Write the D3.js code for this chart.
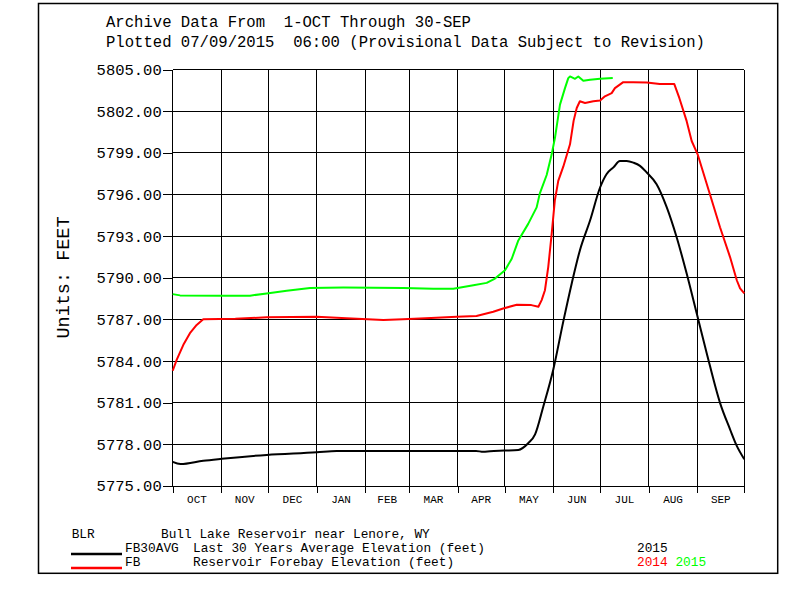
<!DOCTYPE html>
<html>
<head>
<meta charset="utf-8">
<script src="https://cdn.jsdelivr.net/npm/d3@7"></script>
<style>
  html, body { margin: 0; padding: 0; background: #fff; }
  svg { display: block; }
  text { font-family: "Liberation Mono", "DejaVu Sans Mono", monospace; fill: #000; }
</style>
</head>
<body>
<svg id="chart" width="792" height="612"></svg>
<script>
// ---------------- DATA (day offset from 1-OCT-2014, elevation in feet) ----------------
const titleLines = [
  "Archive Data From  1-OCT Through 30-SEP",
  "Plotted 07/09/2015  06:00 (Provisional Data Subject to Revision)"
];
const yLabel = "Units: FEET";
const monthLabels = ["OCT","NOV","DEC","JAN","FEB","MAR","APR","MAY","JUN","JUL","AUG","SEP"];
const yTicks = [5775, 5778, 5781, 5784, 5787, 5790, 5793, 5796, 5799, 5802, 5805];

// FB30AVG - last 30 years average elevation
const avg30 = [
  [0,5776.74],[5,5776.58],[19.5,5776.82],[31.3,5776.96],[60,5777.24],[92,5777.43],
  [104.7,5777.53],[122.8,5777.53],[193.7,5777.53],[198.3,5777.46],[202.6,5777.50],
  [211.7,5777.55],[220.7,5777.60],[227,5778.08],[231.4,5778.72],[236.7,5780.75],
  [243,5783.38],[249.4,5786.84],[254.8,5789.59],[260,5791.97],[266.5,5794.12],
  [272.9,5796.50],[277,5797.46],[281.4,5797.95],[285.6,5798.41],[289.9,5798.41],
  [294.2,5798.29],[298.4,5798.06],[302.7,5797.58],[309,5796.74],[315.5,5795.07],
  [321.8,5792.92],[328.2,5790.30],[334.6,5787.44],[341,5784.57],[349.5,5780.99],
  [355.9,5779.08],[360.2,5777.89],[365,5776.93]
];

// FB 2014 (water year Oct-2013..Sep-2014)
const fb2014 = [
  [0,5783.3],[2.6,5784.10],[6.8,5785.17],[11,5786.01],[15.3,5786.60],[19.5,5787.01],
  [40,5787.05],[60,5787.15],[92,5787.19],[111,5787.08],[134.5,5786.96],[147,5787.01],
  [165,5787.10],[181.4,5787.19],[194,5787.24],[204.7,5787.55],[211,5787.79],
  [219.7,5788.05],[229,5788.03],[233.5,5787.91],[235.6,5788.39],[237.7,5789.10],
  [239.8,5790.77],[242,5793.16],[244,5795.55],[246.2,5796.98],[249.4,5798.0],
  [253.7,5799.61],[256,5801.3],[258,5802.23],[260,5802.71],[263.3,5802.59],
  [268.6,5802.71],[272.9,5802.76],[276,5803.07],[280.3,5803.30],[282.4,5803.66],
  [287.7,5804.09],[294,5804.09],[302.7,5804.07],[311,5803.95],[320.3,5803.95],
  [323.5,5802.95],[328.2,5801.28],[331.4,5799.85],[335.2,5798.89],[343,5796.03],
  [349.5,5793.64],[355.9,5791.49],[360.2,5789.82],[362.3,5789.23],[365,5788.87]
];

// FB 2015 (current water year, to 9-JUL)
const fb2015 = [
  [0,5788.82],[4.7,5788.73],[31.3,5788.71],[49.4,5788.71],[60,5788.87],[72.8,5789.06],
  [87.7,5789.27],[109,5789.30],[147.3,5789.27],[166.4,5789.20],[179.2,5789.20],
  [192,5789.46],[200.5,5789.63],[205.8,5789.94],[212.2,5790.54],[216.5,5791.37],
  [220.7,5792.69],[227,5793.88],[232.4,5795.07],[234.5,5796.1],[238.8,5797.4],
  [242,5798.89],[244.1,5800.08],[247.3,5802.47],[250.5,5803.66],[252.6,5804.38],
  [253.7,5804.50],[256.9,5804.33],[259,5804.50],[262.2,5804.19],[266.5,5804.26],
  [272.9,5804.33],[281,5804.38]
];

const legendHeader = ["BLR", "Bull Lake Reservoir near Lenore, WY"];
const legendRows = [
  { code: "FB30AVG", desc: "Last 30 Years Average Elevation (feet)", color: "#000000",
    years: [{ label: "2015", color: "#000000" }] },
  { code: "FB", desc: "Reservoir Forebay Elevation (feet)", color: "#ff0000",
    years: [{ label: "2014", color: "#ff0000" }, { label: "2015", color: "#00ff00" }] }
];

// ---------------- LAYOUT ----------------
const X0 = 172.7, X1 = 744.3, Y0 = 486, Y1 = 69.5;
const start = new Date(Date.UTC(2014, 9, 1));
const end = new Date(Date.UTC(2015, 9, 1));
const toDate = d => new Date(start.getTime() + d * 864e5);

const svg = d3.select("#chart");
svg.append("rect").attr("width", 792).attr("height", 612).attr("fill", "#fff");

// outer border
svg.append("rect")
  .attr("x", 38.5).attr("y", 3.5).attr("width", 739.2).attr("height", 569.8)
  .attr("fill", "none").attr("stroke", "#000").attr("stroke-width", 1.5);

// titles
svg.selectAll("text.title").data(titleLines).enter().append("text")
  .attr("class", "title")
  .attr("x", 106).attr("y", (d, i) => 26.7 + i * 20.3)
  .attr("font-size", "15.6px")
  .attr("xml:space", "preserve")
  .style("white-space", "pre")
  .text(d => d);

const x = d3.scaleUtc().domain([start, end]).range([X0, X1]);
const y = d3.scaleLinear().domain([5775, 5805]).range([Y0, Y1]);

const monthBounds = d3.utcMonth.range(start, end).concat([end]);

// gridlines
const grid = svg.append("g").attr("stroke", "#000").attr("stroke-width", 1)
  .attr("shape-rendering", "crispEdges");
grid.selectAll("line.h").data(yTicks).enter().append("line")
  .attr("x1", X0).attr("x2", X1).attr("y1", d => y(d)).attr("y2", d => y(d));
grid.selectAll("line.v").data(monthBounds).enter().append("line")
  .attr("y1", Y1).attr("y2", Y0).attr("x1", d => x(d)).attr("x2", d => x(d));

// y axis
const yAxis = svg.append("g").attr("transform", `translate(${X0},0)`)
  .call(d3.axisLeft(y).tickValues(yTicks).tickFormat(d3.format(".2f"))
    .tickSize(10).tickPadding(1).tickSizeOuter(0));
yAxis.select(".domain").remove();
yAxis.selectAll("line").attr("stroke", "#000").attr("shape-rendering", "crispEdges");
yAxis.selectAll("text").attr("font-size", "15.5px")
  .attr("font-family", "Liberation Mono").attr("fill", "#000");

// x axis (month boundary ticks)
const xAxis = svg.append("g").attr("transform", `translate(0,${Y0})`)
  .call(d3.axisBottom(x).tickValues(monthBounds).tickFormat("").tickSize(7).tickSizeOuter(0));
xAxis.select(".domain").remove();
xAxis.selectAll("line").attr("stroke", "#000").attr("shape-rendering", "crispEdges");

// month labels centered in month
svg.selectAll("text.month").data(monthLabels).enter().append("text")
  .attr("class", "month")
  .attr("x", (d, i) => (x(monthBounds[i]) + x(monthBounds[i + 1])) / 2)
  .attr("y", 503.3)
  .attr("text-anchor", "middle")
  .attr("font-size", "11px")
  .text(d => d);

// y label
svg.append("text")
  .attr("transform", "translate(68.5,277.5) rotate(-90)")
  .attr("text-anchor", "middle")
  .attr("font-size", "18.5px")
  .text(yLabel);

// series
const line = d3.line().x(d => x(toDate(d[0]))).y(d => y(d[1]));
const smooth = d3.line().curve(d3.curveMonotoneX).x(d => x(toDate(d[0]))).y(d => y(d[1]));
const plot = svg.append("g").attr("fill", "none").attr("stroke-width", 2).attr("stroke-linejoin", "round");
plot.append("path").datum(avg30).attr("stroke", "#000000").attr("d", smooth);
plot.append("path").datum(fb2014).attr("stroke", "#ff0000").attr("d", line);
plot.append("path").datum(fb2015).attr("stroke", "#00ff00").attr("d", line);

// legend
const lg = svg.append("g").attr("font-size", "12.8px");
lg.append("text").attr("x", 71.7).attr("y", 537.7).text(legendHeader[0]);
lg.append("text").attr("x", 161).attr("y", 537.7).text(legendHeader[1]);
legendRows.forEach((r, i) => {
  const by = 551.7 + i * 14;
  lg.append("line").attr("x1", 71).attr("x2", 122).attr("y1", by + 2.3).attr("y2", by + 2.3)
    .attr("stroke", r.color).attr("stroke-width", 2.5);
  lg.append("text").attr("x", 125).attr("y", by).text(r.code);
  lg.append("text").attr("x", 193).attr("y", by).text(r.desc);
  r.years.forEach((yr, j) => {
    lg.append("text").attr("x", 637 + j * 38.4).attr("y", by)
      .style("fill", yr.color).text(yr.label);
  });
});
</script>
</body>
</html>
